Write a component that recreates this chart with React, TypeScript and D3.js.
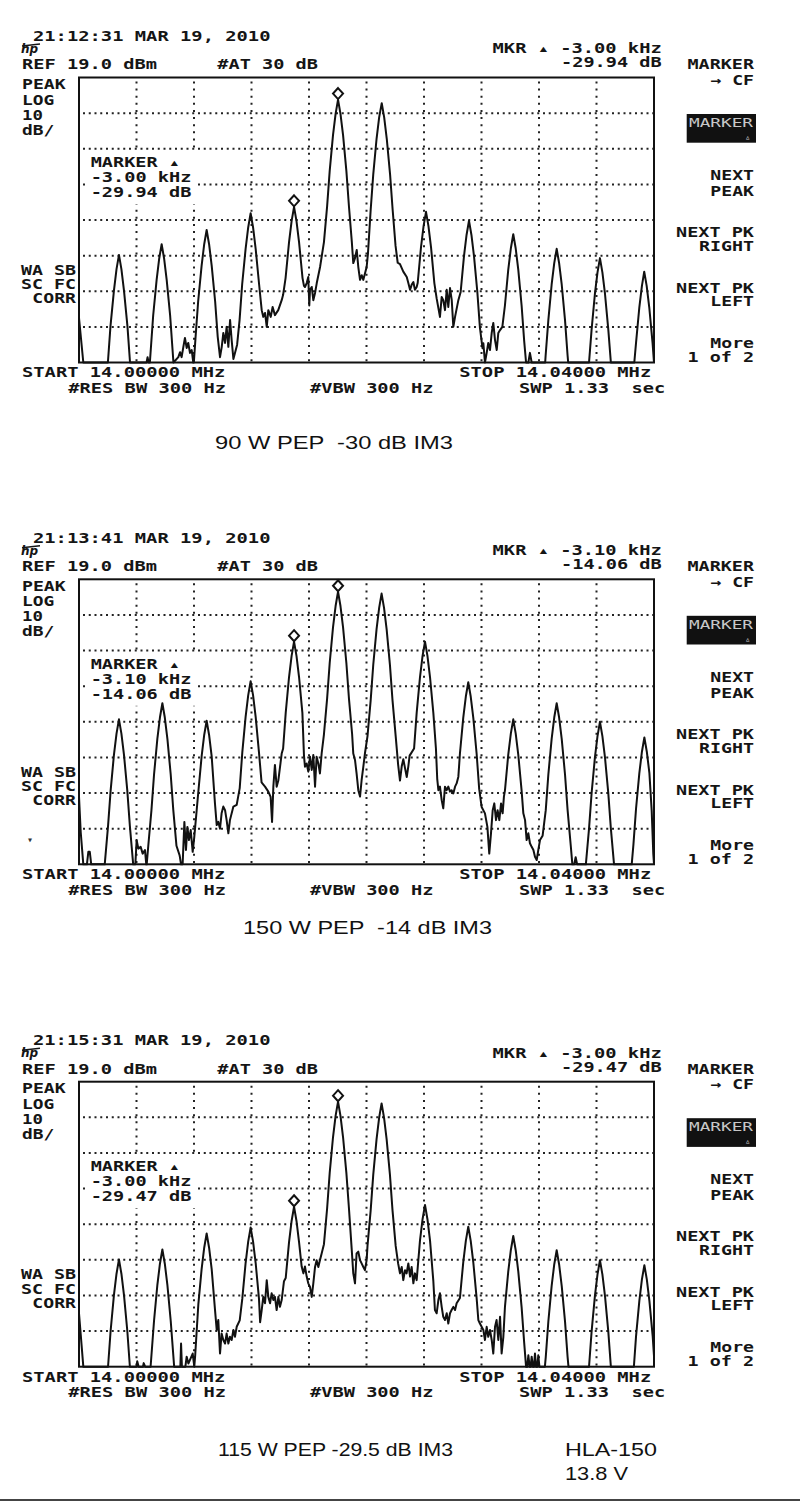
import React from "react";
import * as d3 from "d3";

// ---------- data ----------
const SPAN_KHZ = 40; // 14.00000 .. 14.04000 MHz
const REF_DBM = 19;
const DB_PER_DIV = 10;
const X_DIVS = 10;
const Y_DIVS = 8;

const timestamps = ["21:12:31 MAR 19, 2010", "21:13:41 MAR 19, 2010", "21:15:31 MAR 19, 2010"];
const markerKHz = ["-3.00 kHz", "-3.10 kHz", "-3.00 kHz"];
const markerDb = ["-29.94 dB", "-14.06 dB", "-29.47 dB"];
const captions = ["90 W PEP  -30 dB IM3", "150 W PEP  -14 dB IM3", "115 W PEP -29.5 dB IM3"];

// trace vertices: [kHz above 14.000 MHz, dBm]
const trace1: [number, number][] = [
  [0, -48.5], [0.3, -61],
  [2.01, -61], [2.19, -50.8], [2.43, -40.8], [2.61, -34.8], [2.78, -30.8], [2.95, -34.8], [3.13, -40.8], [3.37, -50.8], [3.55, -61],
  [4.7, -61], [4.77, -59.5], [4.84, -61],
  [4.93, -61], [5.16, -47.8], [5.4, -37.8], [5.58, -31.8], [5.75, -27.8], [5.92, -31.8], [6.1, -37.8], [6.34, -47.8], [6.57, -61],
  [6.91, -59.5], [7.03, -58.1], [7.14, -59.5], [7.26, -56.6], [7.37, -54.1], [7.49, -56.9], [7.6, -55.5], [7.72, -58.3], [7.84, -57.5], [7.95, -61],
  [7.99, -61], [8.11, -53.8], [8.29, -43.8], [8.53, -33.8], [8.71, -27.8], [8.88, -23.8], [9.05, -27.8], [9.23, -33.8], [9.47, -43.8], [9.65, -53.8],
  [9.81, -59.5], [9.93, -56.6], [10.04, -52.7], [10.16, -55.5], [10.27, -51.0], [10.39, -56.6], [10.51, -49.1], [10.62, -54.7], [10.74, -60.0], [10.85, -58.3], [11.0, -56],
  [11.17, -49.1], [11.35, -39.1], [11.59, -29.1], [11.77, -23.1], [11.94, -19.1], [12.11, -23.1], [12.29, -29.1], [12.53, -39.1], [12.71, -46.3],
  [12.82, -48.2], [12.94, -47.1], [13.06, -51.0], [13.17, -46.3], [13.34, -48.2], [13.47, -45.4], [13.63, -47.7], [13.86, -46.3], [14.1, -43.5],
  [14.2, -42], [14.37, -37.3], [14.61, -27.3], [14.79, -21.3], [14.96, -17.3], [15.13, -21.3], [15.31, -27.3], [15.55, -37.3], [15.65, -39.5],
  [15.72, -39.8], [15.84, -38.7], [15.95, -37.0], [16.02, -45.0], [16.07, -40.6], [16.19, -39.8], [16.3, -43.5], [16.42, -41.5], [16.54, -38.7], [16.77, -34.2],
  [17.04, -27.2], [17.26, -17.2], [17.44, -7.2], [17.67, 2.8], [17.85, 8.8], [18.02, 12.8], [18.19, 8.8], [18.37, 2.8], [18.6, -7.2], [18.78, -17.2], [18.98, -27.2], [19.08, -33.1],
  [19.2, -31.7], [19.32, -29.4], [19.43, -34.2], [19.55, -37.8], [19.67, -36.5], [19.78, -37.8], [20.01, -34.2], [20.1, -30.5],
  [20.29, -18.2], [20.47, -8.2], [20.7, 1.8], [20.88, 7.8], [21.06, 11.8], [21.23, 7.8], [21.41, 1.8], [21.64, -8.2], [21.82, -18.2], [22.02, -28.2], [22.17, -33],
  [22.33, -33.4], [22.56, -35.5], [22.8, -37.0], [22.91, -38.7], [23.03, -40.6], [23.14, -39.2], [23.26, -38.4], [23.37, -40.6], [23.49, -39.8],
  [23.56, -38.7], [23.79, -28.7], [23.97, -22.7], [24.14, -18.7], [24.31, -22.7], [24.49, -28.7], [24.72, -38.7], [24.88, -43], [25.11, -48.2],
  [25.23, -42.6], [25.34, -43.5], [25.46, -46.3], [25.58, -40.6], [25.69, -45.4], [25.81, -40.1], [25.93, -43.5], [26.04, -51.0], [26.16, -48.2], [26.39, -43.5],
  [26.55, -41.2], [26.78, -31.2], [26.96, -25.2], [27.13, -21.2], [27.3, -25.2], [27.48, -31.2], [27.71, -41.2], [27.89, -51.2], [28.07, -57],
  [28.13, -55.6], [28.24, -61], [28.36, -58.3], [28.47, -55.5], [28.59, -57.5], [28.71, -52.7], [28.82, -49.9], [28.94, -54.7], [29.06, -57.5], [29.17, -52.7], [29.29, -51.9],
  [29.45, -51], [29.63, -45], [29.86, -35], [30.04, -29], [30.21, -25], [30.38, -29], [30.56, -35], [30.79, -45], [30.97, -55], [31.1, -61],
  [31.26, -61], [31.37, -58.3], [31.49, -61],
  [32.43, -61], [32.46, -59.1], [32.65, -49.1], [32.88, -39.1], [33.06, -33.1], [33.23, -29.1], [33.4, -33.1], [33.58, -39.1], [33.81, -49.1], [33.99, -59.1], [34.03, -61],
  [35.48, -61], [35.66, -51.7], [35.89, -41.7], [36.07, -35.7], [36.24, -31.7], [36.41, -35.7], [36.59, -41.7], [36.82, -51.7], [37.0, -61],
  [38.63, -61], [38.75, -55.5], [38.98, -45.5], [39.16, -39.5], [39.32, -35.5], [39.49, -39.5], [39.67, -45.5], [39.9, -55.5], [40, -61],
];

const trace2: [number, number][] = [
  [0, -42], [0.12, -52], [0.3, -61], [0.55, -61], [0.65, -57.5], [0.75, -57.5], [0.85, -61],
  [1.79, -61], [2.02, -50.3], [2.2, -40.3], [2.43, -30.3], [2.61, -24.3], [2.78, -20.3], [2.95, -24.3], [3.13, -30.3], [3.36, -40.3], [3.54, -50.3], [3.77, -61],
  [3.92, -61], [4.01, -54.2], [4.13, -56.6], [4.29, -56.1], [4.43, -58.0], [4.59, -57.0], [4.68, -61],
  [4.71, -61], [4.82, -55.8], [5.04, -45.8], [5.22, -35.8], [5.45, -25.8], [5.63, -19.8], [5.8, -15.8], [5.97, -19.8], [6.15, -25.8], [6.38, -35.8], [6.56, -45.8], [6.78, -55.8], [7.0, -58.5], [7.1, -61],
  [7.21, -61], [7.33, -49.1], [7.44, -57.0], [7.54, -50.5], [7.65, -54.2], [7.77, -51.4], [7.91, -57.5], [8.02, -53.3],
  [8.3, -40.7], [8.53, -30.7], [8.71, -24.7], [8.88, -20.7], [9.05, -24.7], [9.23, -30.7], [9.46, -44], [9.58, -50],
  [9.69, -49.1], [9.81, -51.0], [9.92, -46.7], [10.04, -44.8], [10.16, -45.8], [10.27, -48.6], [10.39, -52.3], [10.5, -48.6], [10.74, -44.8], [10.97, -44.3],
  [11.18, -39.6], [11.36, -29.6], [11.59, -19.6], [11.77, -13.6], [11.94, -9.6], [12.11, -13.6], [12.29, -19.6], [12.52, -29.6], [12.7, -38],
  [12.94, -39.2], [13.17, -40.6], [13.33, -42.1], [13.43, -49.1], [13.52, -39.2], [13.63, -33.1], [13.75, -39.2], [13.87, -37.4], [14.1, -29.9],
  [14.2, -28.5], [14.38, -18.5], [14.61, -8.5], [14.79, -2.5], [14.96, 1.5], [15.13, -2.5], [15.31, -8.5], [15.54, -18.5], [15.65, -30.5],
  [15.72, -33.6], [15.84, -32.7], [15.95, -35.0], [16.07, -30.8], [16.19, -34.5], [16.3, -30.3], [16.42, -39.2], [16.53, -30.8], [16.65, -32.7], [16.76, -35.5], [16.88, -29.9],
  [17.04, -24.5], [17.26, -14.5], [17.44, -4.5], [17.67, 5.5], [17.85, 11.5], [18.02, 15.5], [18.19, 11.5], [18.37, 5.5], [18.6, -4.5], [18.78, -14.5], [19.0, -24.5], [19.08, -29.9],
  [19.2, -31.7], [19.31, -35.5], [19.43, -40.2], [19.55, -42.0], [19.66, -37.4], [19.78, -33.6], [19.89, -29.9],
  [20.07, -25.0], [20.29, -15.0], [20.47, -5.0], [20.7, 5.0], [20.88, 11.0], [21.05, 15.0], [21.22, 11.0], [21.4, 5.0], [21.63, -5.0], [21.81, -15.0], [22.03, -25.0], [22.2, -33],
  [22.33, -37.5], [22.45, -33.5], [22.56, -31.5], [22.68, -34], [22.8, -36.5], [22.91, -33.5], [23.0, -30.5],
  [23.31, -28.5], [23.49, -18.5], [23.72, -8.5], [23.9, -2.5], [24.07, 1.5], [24.24, -2.5], [24.42, -8.5], [24.65, -18.5], [24.83, -28.5], [24.92, -37],
  [25.0, -40.2], [25.11, -39.2], [25.23, -43], [25.34, -45.3], [25.46, -39.2], [25.58, -40.2], [25.69, -39.2], [25.81, -40.6], [25.92, -40.2], [26.04, -41.1], [26.16, -39.2], [26.27, -38.3], [26.39, -36.4],
  [26.5, -29.9], [26.73, -19.9], [26.91, -13.9], [27.08, -9.9], [27.25, -13.9], [27.43, -19.9], [27.66, -29.9], [27.84, -39.9], [28.01, -44.9],
  [28.24, -46.7], [28.41, -50.5], [28.54, -58.0], [28.66, -52.3], [28.78, -45.8], [28.89, -43.9], [29.01, -48.6], [29.12, -45.8], [29.24, -48.6], [29.36, -43.9], [29.47, -46.7], [29.56, -42],
  [29.63, -40.3], [29.86, -30.3], [30.04, -24.3], [30.21, -20.3], [30.38, -24.3], [30.56, -30.3], [30.79, -40.3], [30.91, -46.7],
  [31.03, -48.6], [31.14, -54.2], [31.26, -52.3], [31.37, -55.1], [31.49, -56.1], [31.61, -57.0], [31.72, -58.9], [31.84, -59.8], [31.95, -57.0], [32.07, -54.2],
  [32.25, -53], [32.47, -45.8], [32.65, -35.8], [32.88, -25.8], [33.06, -19.8], [33.23, -15.8], [33.4, -19.8], [33.58, -25.8], [33.81, -35.8], [33.99, -45.8], [34.21, -55.8], [34.32, -61],
  [34.45, -61], [34.55, -59], [34.65, -61],
  [35.26, -61], [35.48, -51], [35.66, -41], [35.89, -31], [36.07, -25], [36.24, -21], [36.41, -25], [36.59, -31], [36.82, -41], [37.0, -51], [37.22, -61],
  [38.45, -61], [38.57, -55.4], [38.75, -45.4], [38.98, -35.4], [39.16, -29.4], [39.33, -25.4], [39.5, -29.4], [39.68, -35.4], [39.84, -46], [39.95, -58], [40, -61],
];

const trace3: [number, number][] = [
  [0, -46], [0.3, -61],
  [2.02, -61], [2.2, -50.9], [2.43, -40.9], [2.61, -34.9], [2.78, -30.9], [2.95, -34.9], [3.13, -40.9], [3.36, -50.9], [3.54, -61],
  [4.0, -61], [4.05, -59.5], [4.15, -61], [4.45, -61], [4.5, -60], [4.6, -61],
  [4.98, -61], [5.22, -48.1], [5.45, -38.1], [5.63, -32.1], [5.8, -28.1], [5.97, -32.1], [6.15, -38.1], [6.38, -48.1], [6.62, -61],
  [7.05, -61], [7.1, -54.5], [7.16, -61], [7.4, -61], [7.49, -58.2], [7.61, -60.1], [7.72, -59.1], [7.91, -57.3], [8.02, -61],
  [8.08, -58], [8.3, -43.6], [8.53, -33.6], [8.71, -27.6], [8.88, -23.6], [9.05, -27.6], [9.23, -33.6], [9.46, -45],
  [9.58, -50.7], [9.69, -47.9], [9.81, -57.3], [9.92, -51.7], [10.04, -53.5], [10.16, -54.5], [10.27, -51.7], [10.39, -54.5], [10.5, -52.6], [10.62, -53.5], [10.74, -50.7], [10.85, -52.6], [10.97, -49.8],
  [11.18, -48], [11.36, -41.9], [11.59, -31.9], [11.77, -25.9], [11.94, -21.9], [12.11, -25.9], [12.29, -31.9], [12.52, -41.9], [12.6, -48.5],
  [12.71, -45.1], [12.82, -41.4], [12.94, -43.2], [13.06, -36.7], [13.17, -41.4], [13.29, -43.2], [13.4, -40.4], [13.52, -42.3], [13.63, -41.4], [13.75, -45.1], [13.87, -41.4], [13.98, -44.2], [14.1, -42.3], [14.26, -37],
  [14.38, -36.1], [14.61, -26.1], [14.79, -20.1], [14.96, -16.1], [15.13, -20.1], [15.31, -26.1], [15.49, -32.9],
  [15.61, -34.8], [15.72, -32.9], [15.84, -35.7], [15.95, -37.6], [16.07, -38.6], [16.19, -41.4], [16.3, -37.6], [16.42, -33.0], [16.53, -31.1], [16.65, -33.0], [16.76, -31.1], [16.88, -29.2],
  [17.04, -26.6], [17.26, -16.6], [17.44, -6.6], [17.67, 3.4], [17.85, 9.4], [18.02, 13.4], [18.19, 9.4], [18.37, 3.4], [18.6, -6.6], [18.78, -16.6], [18.97, -28],
  [19.08, -34.8], [19.2, -37.6], [19.31, -29.2], [19.43, -28.7], [19.55, -31.1], [19.66, -32.0], [19.78, -33.0], [19.89, -33.9], [20.01, -31.1],
  [20.07, -27.1], [20.29, -17.1], [20.47, -7.1], [20.7, 2.9], [20.88, 8.9], [21.05, 12.9], [21.22, 8.9], [21.4, 2.9], [21.63, -7.1], [21.81, -17.1], [22.03, -27.1], [22.2, -32],
  [22.33, -34.8], [22.45, -33.0], [22.56, -36.7], [22.68, -33.9], [22.79, -34.8], [22.91, -32.0], [23.03, -35.7], [23.14, -33.0], [23.26, -37.6], [23.37, -34.8], [23.49, -36.7],
  [23.72, -25.6], [23.9, -19.6], [24.07, -15.6], [24.24, -19.6], [24.42, -25.6], [24.65, -37], [24.76, -45.1],
  [24.88, -46.0], [25.0, -42.3], [25.11, -40.4], [25.23, -44.2], [25.34, -47.0], [25.46, -47.9], [25.58, -46.0], [25.69, -48.9], [25.81, -46.0], [25.92, -45.1], [26.04, -44.2], [26.16, -45.1], [26.27, -43.2],
  [26.5, -41.7], [26.73, -31.7], [26.91, -25.7], [27.08, -21.7], [27.25, -25.7], [27.43, -31.7], [27.66, -41.7], [27.78, -47.9],
  [27.89, -48.9], [28.01, -49.8], [28.13, -50.7], [28.24, -53.5], [28.36, -49.8], [28.47, -52.6], [28.59, -50.7], [28.71, -53.5], [28.82, -57.3], [28.94, -49.8], [29.05, -47.9], [29.17, -53.5], [29.29, -47.0], [29.4, -57.3], [29.52, -52.6],
  [29.63, -44.3], [29.86, -34.3], [30.04, -28.3], [30.21, -24.3], [30.38, -28.3], [30.56, -34.3], [30.79, -44.3], [30.97, -54.3], [31.1, -61],
  [31.18, -61], [31.26, -57.8], [31.35, -61], [31.42, -61], [31.49, -58.2], [31.58, -61], [31.65, -61], [31.72, -57.3], [31.8, -61], [31.88, -61], [31.95, -57.8], [32.03, -61],
  [32.41, -61], [32.47, -58.3], [32.65, -48.3], [32.88, -38.3], [33.06, -32.3], [33.23, -28.3], [33.4, -32.3], [33.58, -38.3], [33.81, -48.3], [33.99, -58.3], [34.05, -61],
  [35.48, -61], [35.66, -51.1], [35.89, -41.1], [36.07, -35.1], [36.24, -31.1], [36.41, -35.1], [36.59, -41.1], [36.82, -51.1], [37.0, -61],
  [38.6, -61], [38.75, -52.5], [38.98, -42.5], [39.16, -36.5], [39.33, -32.5], [39.5, -36.5], [39.68, -42.5], [39.91, -52.5], [40, -58],
];

const traces = [trace1, trace2, trace3];

// marker positions (second marker = reference peak): [kHz, dBm]
const markers1: [number, number][] = [[14.96, -17.3], [18.02, 12.8]];
const markers2: [number, number][] = [[14.96, 1.5], [18.02, 15.5]];
const markers3: [number, number][] = [[14.96, -16.1], [18.02, 13.4]];
const markerSets = [markers1, markers2, markers3];

// ---------- layout ----------
const W = 800;
const H = 1505;
const PLOT_X = 79;
const PLOT_W = 575;
const PLOT_H = 285;
const PANEL_TOPS = [77.5, 579.3, 1081.7];
const PITCH = 11.4;
const GLYPH = 9.5;
const MONO = "'DejaVu Sans Mono', monospace";
const SANS = "'Liberation Sans', Arial, sans-serif";
const DELTA = "\u25B4";

function Mono({ x, y, t, anchor = "start", size = 13.7, fill = "#151515", weight = 700 }: any) {
  const len = (t.length - 1) * PITCH + GLYPH;
  const x0 = anchor === "end" ? x - len : x;
  return (
    <text
      x={x0}
      y={y}
      textLength={len}
      lengthAdjust="spacingAndGlyphs"
      style={{ whiteSpace: "pre" }}
      fontFamily={MONO}
      fontWeight={weight}
      fontSize={size}
      fill={fill}
    >
      {t}
    </text>
  );
}

function Panel({ idx }: { idx: number }) {
  const top = PANEL_TOPS[idx];
  const dy = top - PANEL_TOPS[0];
  const x = d3.scaleLinear().domain([0, SPAN_KHZ]).range([PLOT_X, PLOT_X + PLOT_W]);
  const y = d3
    .scaleLinear()
    .domain([REF_DBM - DB_PER_DIV * Y_DIVS, REF_DBM])
    .range([top + PLOT_H, top])
    .clamp(true);
  const line = d3
    .line<[number, number]>()
    .x((d) => x(d[0]))
    .y((d) => y(d[1]));
  const vTicks = d3.range(1, X_DIVS).map((i) => (i * SPAN_KHZ) / X_DIVS);
  const hTicks = d3.range(1, Y_DIVS).map((i) => REF_DBM - i * DB_PER_DIV);
  const T = (v: number) => v + dy;

  return (
    <g>
      {/* grid */}
      {vTicks.map((v) => (
        <line
          key={"v" + v}
          x1={x(v)}
          x2={x(v)}
          y1={top + 4}
          y2={top + PLOT_H}
          stroke="#222"
          strokeWidth={2}
          strokeDasharray="2 5.12"
        />
      ))}
      {hTicks.map((v) => (
        <line
          key={"h" + v}
          x1={PLOT_X + 4}
          x2={PLOT_X + PLOT_W}
          y1={y(v)}
          y2={y(v)}
          stroke="#222"
          strokeWidth={2}
          strokeDasharray="2 3.75"
        />
      ))}
      {/* in-plot marker readout box background */}
      <rect x={86} y={T(152)} width={112} height={52} fill="#fff" />
      <rect x={PLOT_X} y={top} width={PLOT_W} height={PLOT_H} fill="none" stroke="#111" strokeWidth={2} />
      {/* trace */}
      <path d={line(traces[idx]) || ""} fill="none" stroke="#111" strokeWidth={2} strokeLinejoin="round" />
      {/* markers */}
      {markerSets[idx].map((m, i) => {
        const cx = x(m[0]);
        const cy = y(m[1]) - 6;
        return (
          <path
            key={i}
            d={`M${cx},${cy - 5.5}L${cx + 5},${cy}L${cx},${cy + 5.5}L${cx - 5},${cy}Z`}
            fill="#fff"
            stroke="#111"
            strokeWidth={2}
          />
        );
      })}

      {/* header texts */}
      <Mono x={33} y={T(40.7)} t={timestamps[idx]} />
      <text x={21} y={T(53)} fontFamily="'DejaVu Sans', sans-serif" fontStyle="italic" fontWeight={700} fontSize={12} fill="#151515">
        hp
      </text>
      <line x1={22} y1={T(46)} x2={40} y2={T(44)} stroke="#151515" strokeWidth={1.5} />
      <Mono x={22} y={T(69.3)} t="REF 19.0 dBm" />
      <Mono x={217.3} y={T(69.3)} t="#AT 30 dB" />
      <Mono x={661.7} y={T(53.3)} t={"MKR " + DELTA + " " + markerKHz[idx]} anchor="end" />
      <Mono x={661.7} y={T(67.3)} t={markerDb[idx]} anchor="end" />
      <Mono x={22} y={T(89)} t="PEAK" />
      <Mono x={22} y={T(104.5)} t="LOG" />
      <Mono x={22} y={T(119.5)} t="10" />
      <Mono x={22} y={T(134.5)} t="dB/" />
      <Mono x={90.7} y={T(166.7)} t={"MARKER " + DELTA} />
      <Mono x={90.7} y={T(181.7)} t={markerKHz[idx]} />
      <Mono x={90.7} y={T(196.7)} t={markerDb[idx]} />
      <Mono x={76} y={T(275)} t="WA SB" anchor="end" />
      <Mono x={76} y={T(289.3)} t="SC FC" anchor="end" />
      <Mono x={76} y={T(303.3)} t="CORR" anchor="end" />
      <Mono x={22} y={T(377.3)} t="START 14.00000 MHz" />
      <Mono x={68.3} y={T(392.7)} t="#RES BW 300 Hz" />
      <Mono x={310} y={T(392.7)} t="#VBW 300 Hz" />
      <Mono x={459.3} y={T(377.3)} t="STOP 14.04000 MHz" />
      <Mono x={519} y={T(392.7)} t="SWP 1.33  sec" />

      {/* softkeys */}
      <Mono x={754} y={T(69.3)} t="MARKER" anchor="end" />
      <Mono x={754} y={T(85)} t={"\u2192 CF"} anchor="end" />
      <rect x={686.7} y={T(114)} width={69.3} height={28.7} fill="#111" />
      <text
        x={689}
        y={T(127)}
        textLength={64}
        lengthAdjust="spacingAndGlyphs"
        fontFamily={MONO}
        fontSize={12}
        fill="#c8c8c8"
      >
        MARKER
      </text>
      <text x={745} y={T(140)} fontFamily={MONO} fontSize={9} fill="#c8c8c8">
        {"\u25B5"}
      </text>
      <Mono x={754} y={T(180)} t="NEXT" anchor="end" />
      <Mono x={754} y={T(195.7)} t="PEAK" anchor="end" />
      <Mono x={754} y={T(236.7)} t="NEXT PK" anchor="end" />
      <Mono x={754} y={T(250.7)} t="RIGHT" anchor="end" />
      <Mono x={754} y={T(292.7)} t="NEXT PK" anchor="end" />
      <Mono x={754} y={T(306)} t="LEFT" anchor="end" />
      <Mono x={754} y={T(347.7)} t="More" anchor="end" />
      <Mono x={754} y={T(361.7)} t="1 of 2" anchor="end" />
      {idx === 1 && (
        <text x={27} y={T(341)} fontFamily={MONO} fontSize={10} fill="#333">
          {"\u25BE"}
        </text>
      )}
    </g>
  );
}

export default function App() {
  return (
    <div style={{ position: "absolute", left: 0, top: 0, width: W, height: H, background: "#fff" }}>
      <svg width={W} height={H} viewBox={`0 0 ${W} ${H}`} style={{ display: "block" }}>
        <rect x={0} y={0} width={W} height={H} fill="#fff" />
        {[0, 1, 2].map((i) => (
          <Panel key={i} idx={i} />
        ))}
        <text x={215} y={449} textLength={238} lengthAdjust="spacingAndGlyphs" style={{ whiteSpace: "pre" }} fontFamily={SANS} fontSize={19} fill="#111">
          {captions[0]}
        </text>
        <text x={243} y={934} textLength={249} lengthAdjust="spacingAndGlyphs" style={{ whiteSpace: "pre" }} fontFamily={SANS} fontSize={19} fill="#111">
          {captions[1]}
        </text>
        <text x={218} y={1456} textLength={235} lengthAdjust="spacingAndGlyphs" style={{ whiteSpace: "pre" }} fontFamily={SANS} fontSize={19} fill="#111">
          {captions[2]}
        </text>
        <text x={565} y={1456} textLength={92} lengthAdjust="spacingAndGlyphs" fontFamily={SANS} fontSize={19} fill="#111">
          HLA-150
        </text>
        <text x={565} y={1480} textLength={63} lengthAdjust="spacingAndGlyphs" fontFamily={SANS} fontSize={19} fill="#111">
          13.8 V
        </text>
        <line x1={0} x2={W} y1={1500} y2={1500} stroke="#444" strokeWidth={2} />
      </svg>
    </div>
  );
}
